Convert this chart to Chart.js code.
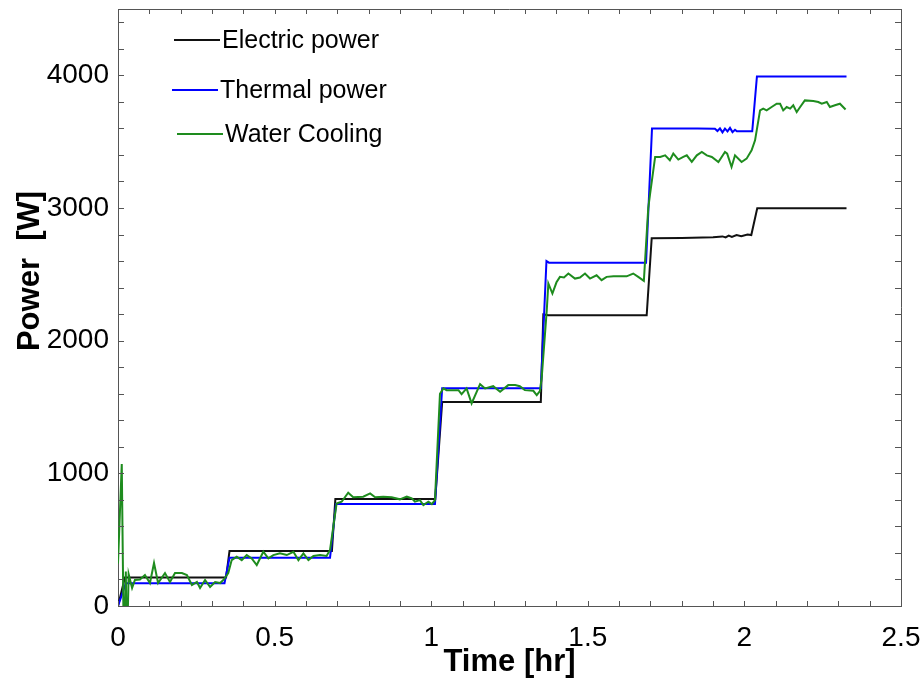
<!DOCTYPE html>
<html>
<head>
<meta charset="utf-8">
<script src="https://cdn.jsdelivr.net/npm/chart.js@4"></script>
<style>
  html, body { margin: 0; padding: 0; background: #fff; }
  canvas { display: block; }
</style>
</head>
<body>
<canvas id="power-chart" width="923" height="691"></canvas>
<script>
// series labels
const seriesNames = ['Electric power', 'Thermal power', 'Water Cooling'];

// Electric power (black) - time [hr] / power [W]
const elecTime = [0, 0.022, 0.345, 0.356, 0.683, 0.694, 1.013, 1.035, 1.350, 1.358, 1.374, 1.688, 1.704, 1.80, 1.90, 1.93, 1.94, 1.95, 1.96, 1.975, 1.99, 2.01, 2.022, 2.041, 2.326];
const elecPower = [0, 214, 214, 414, 414, 806, 806, 1537, 1537, 2198, 2192, 2192, 2772, 2774, 2780, 2786, 2778, 2792, 2782, 2796, 2788, 2800, 2796, 2998, 2998];

// Thermal power (blue)
const thermTime = [0, 0.025, 0.340, 0.356, 0.677, 0.696, 1.012, 1.035, 1.350, 1.368, 1.376, 1.686, 1.705, 1.85, 1.906, 1.914, 1.922, 1.930, 1.938, 1.946, 1.954, 1.962, 1.970, 1.976, 2.025, 2.040, 2.326];
const thermPower = [0, 171, 171, 364, 364, 768, 768, 1642, 1642, 2600, 2588, 2588, 3600, 3600, 3598, 3580, 3600, 3570, 3598, 3578, 3604, 3572, 3590, 3578, 3578, 3992, 3992];

// Water Cooling (green)
const waterTime = [0, 0.012, 0.019, 0.025, 0.028, 0.034, 0.045, 0.054, 0.070, 0.086, 0.102, 0.115, 0.128, 0.150, 0.166, 0.182, 0.204, 0.220, 0.236, 0.252, 0.262, 0.278, 0.294, 0.310, 0.326, 0.338, 0.352,
  0.363, 0.379, 0.395, 0.411, 0.427, 0.443, 0.464, 0.480, 0.496, 0.517, 0.539, 0.560, 0.576, 0.592, 0.608, 0.624, 0.645, 0.666, 0.677,
  0.698, 0.714, 0.735, 0.751, 0.783, 0.805, 0.821, 0.847, 0.874, 0.900, 0.922, 0.938, 0.948, 0.964, 0.975, 0.991, 1.002, 1.012,
  1.028, 1.039, 1.049, 1.071, 1.087, 1.097, 1.113, 1.129, 1.156, 1.172, 1.198, 1.220, 1.246, 1.268, 1.283, 1.299, 1.326, 1.337, 1.347,
  1.353, 1.369, 1.374, 1.387, 1.400, 1.411, 1.424, 1.438, 1.459, 1.475, 1.491, 1.507, 1.528, 1.544, 1.560, 1.582, 1.624, 1.645, 1.661, 1.679,
  1.693, 1.699, 1.715, 1.731, 1.747, 1.762, 1.773, 1.789, 1.805, 1.816, 1.832, 1.848, 1.864, 1.880, 1.896, 1.917, 1.938, 1.945, 1.959, 1.970, 1.991, 2.007, 2.023,
  2.034, 2.050, 2.060, 2.071, 2.087, 2.103, 2.114, 2.124, 2.135, 2.146, 2.156, 2.167, 2.178, 2.193, 2.220, 2.236, 2.247, 2.263, 2.273, 2.289, 2.305, 2.323];
const waterPower = [320, 1070, -400, 260, -400, 240, 136, 196, 200, 233, 173, 324, 173, 248, 181, 248, 248, 233, 158, 181, 136, 196, 143, 181, 173, 200, 248,
  346, 371, 346, 384, 359, 309, 409, 359, 384, 397, 384, 409, 346, 397, 346, 377, 384, 377, 422,
  773, 786, 854, 819, 824, 849, 819, 824, 819, 804, 824, 811, 786, 798, 761, 786, 768, 798,
  1600, 1640, 1627, 1627, 1627, 1597, 1640, 1527, 1672, 1640, 1657, 1615, 1665, 1665, 1657, 1627, 1622, 1589, 1620,
  1727, 2230, 2431, 2355, 2440, 2481, 2476, 2506, 2468, 2476, 2506, 2468, 2493, 2456, 2481, 2485, 2485, 2506, 2481, 2451,
  3000, 3109, 3385, 3385, 3397, 3360, 3410, 3365, 3385, 3397, 3347, 3397, 3422, 3397, 3385, 3347, 3422, 3410, 3309, 3397, 3347, 3372, 3435,
  3510, 3736, 3749, 3736, 3761, 3786, 3786, 3736, 3761, 3749, 3774, 3723, 3761, 3811, 3806, 3799, 3786, 3799, 3761, 3774, 3786, 3742];

// axis tick values
const xTicks = [0, 0.5, 1, 1.5, 2, 2.5];
const yTicks = [0, 1000, 2000, 3000, 4000];

const toPoints = (xs, ys) => xs.map((x, i) => ({ x: x, y: ys[i] }));

const FONT = '"Liberation Sans", Arial, sans-serif';

// inward ticks + box frame
const frameTicks = {
  id: 'frameTicks',
  afterDraw(chart) {
    const { ctx, chartArea: a, scales: { x, y } } = chart;
    ctx.save();
    ctx.strokeStyle = '#555';
    ctx.lineWidth = 1;
    ctx.beginPath();
    ctx.moveTo(a.left, a.top + 0.5);
    ctx.lineTo(a.right + 0.5, a.top + 0.5);
    ctx.lineTo(a.right + 0.5, a.bottom);
    for (let i = 0; i <= 25; i++) {
      const px = Math.round(x.getPixelForValue(i / 10)) + 0.5;
      ctx.moveTo(px, a.bottom);
      ctx.lineTo(px, a.bottom - 5);
      ctx.moveTo(px, a.top);
      ctx.lineTo(px, a.top + 5);
    }
    for (let v = 0; v <= 4400; v += 200) {
      const py = Math.round(y.getPixelForValue(v)) + 0.5;
      ctx.moveTo(a.left, py);
      ctx.lineTo(a.left + 6, py);
      ctx.moveTo(a.right, py);
      ctx.lineTo(a.right - 6, py);
    }
    ctx.stroke();

    // y axis title
    ctx.fillStyle = '#000';
    ctx.font = 'bold 31px ' + FONT;
    ctx.textAlign = 'center';
    ctx.textBaseline = 'middle';
    ctx.translate(30, 271);
    ctx.rotate(-Math.PI / 2);
    ctx.fillText('Power  [W]', 0, 0);
    ctx.restore();
  }
};

// legend drawn inside the plot, top-left
const innerLegend = {
  id: 'innerLegend',
  afterDraw(chart) {
    const { ctx } = chart;
    const rows = [
      { i: 0, x1: 174, x2: 220, y: 40 },
      { i: 1, x1: 172, x2: 218, y: 90 },
      { i: 2, x1: 177, x2: 223, y: 134 }
    ];
    ctx.save();
    ctx.font = '25px ' + FONT;
    ctx.textBaseline = 'middle';
    ctx.textAlign = 'left';
    rows.forEach(r => {
      const ds = chart.data.datasets[r.i];
      ctx.strokeStyle = ds.borderColor;
      ctx.lineWidth = 2;
      ctx.beginPath();
      ctx.moveTo(r.x1, r.y);
      ctx.lineTo(r.x2, r.y);
      ctx.stroke();
      ctx.fillStyle = '#000';
      ctx.fillText(ds.label, r.x2 + 2, r.y + 1);
    });
    ctx.restore();
  }
};

new Chart(document.getElementById('power-chart'), {
  type: 'line',
  data: {
    datasets: [
      { label: seriesNames[0], data: toPoints(elecTime, elecPower), borderColor: '#111111', borderWidth: 2, pointRadius: 0, tension: 0, order: 2 },
      { label: seriesNames[1], data: toPoints(thermTime, thermPower), borderColor: '#0000ff', borderWidth: 2, pointRadius: 0, tension: 0, order: 1 },
      { label: seriesNames[2], data: toPoints(waterTime, waterPower), borderColor: '#1e8c1e', borderWidth: 2, pointRadius: 0, tension: 0, order: 0 }
    ]
  },
  options: {
    responsive: false,
    animation: false,
    devicePixelRatio: 1,
    layout: { padding: { top: 9, right: 22, left: 0, bottom: 0 } },
    plugins: {
      legend: { display: false },
      tooltip: { enabled: false }
    },
    scales: {
      x: {
        type: 'linear',
        min: 0,
        max: 2.5,
        afterBuildTicks: s => { s.ticks = xTicks.map(v => ({ value: v })); },
        afterFit: s => { s.height = 85; s.paddingLeft = 0; s.paddingRight = 0; },
        grid: { display: false },
        border: { display: true, color: '#555', width: 1 },
        ticks: {
          color: '#000',
          font: { family: FONT, size: 28 },
          padding: 7,
          maxRotation: 0,
          callback: v => String(v)
        },
        title: {
          display: true,
          text: 'Time [hr]',
          color: '#000',
          font: { family: FONT, size: 31, weight: 'bold' },
          padding: { top: 0, bottom: 10 }
        }
      },
      y: {
        type: 'linear',
        min: 0,
        max: 4500,
        afterBuildTicks: s => { s.ticks = yTicks.map(v => ({ value: v })); },
        afterFit: s => { s.width = 118; s.paddingTop = 0; s.paddingBottom = 0; },
        grid: { display: false },
        border: { display: true, color: '#555', width: 1 },
        ticks: {
          color: '#000',
          font: { family: FONT, size: 28 },
          padding: 1,
          callback: v => String(v)
        }
      }
    }
  },
  plugins: [frameTicks, innerLegend]
});
</script>
</body>
</html>
